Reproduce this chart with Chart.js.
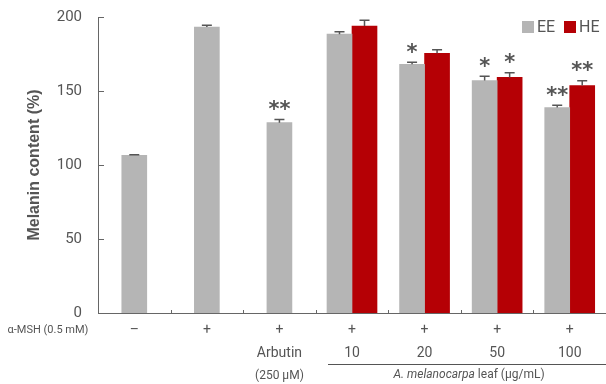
<!DOCTYPE html>
<html>
<head>
<meta charset="utf-8">
<script src="https://cdn.jsdelivr.net/npm/chart.js@4/dist/chart.umd.min.js"></script>
<style>
  html, body { margin: 0; padding: 0; background: #fff; }
  #wrap { width: 606px; height: 384px; position: relative; }
</style>
</head>
<body>
<div id="wrap"><canvas id="chart"></canvas></div>
<script>
const categories = ['control', 'msh', 'arbutin', '10', '20', '50', '100'];
const mshRow = ['\u2013', '+', '+', '+', '+', '+', '+'];
const doseRow = ['', '', 'Arbutin', '10', '20', '50', '100'];
const eeValues = [106.5, 193.2, 128.6, 188.4, 168.0, 157.1, 138.8];
const eeErrors = [0.4, 1.2, 2.2, 1.6, 1.4, 2.9, 1.5];
const eeStars = ['', '', '**', '', '*', '*', '**'];
const heValues = [null, null, null, 193.9, 175.5, 159.2, 153.7];
const heErrors = [0, 0, 0, 3.9, 2.3, 3.2, 3.2];
const heStars = ['', '', '', '', '', '*', '**'];
const yTicks = [0, 50, 100, 150, 200];

const GREY = '#b5b5b5';
const RED = '#b50005';
const TEXT = '#555555';
const FONT = "'Liberation Sans Narrow', 'Roboto', 'Liberation Sans', sans-serif";

const extras = {
  id: 'extras',
  afterDatasetsDraw(chart) {
    const ctx = chart.ctx;
    const x = chart.scales.x;
    const y = chart.scales.y;
    const area = chart.chartArea;
    ctx.save();

    // inward tick marks
    ctx.strokeStyle = '#666';
    ctx.lineWidth = 1;
    ctx.beginPath();
    yTicks.forEach(v => {
      const py = Math.round(y.getPixelForValue(v)) + 0.5;
      ctx.moveTo(area.left, py);
      ctx.lineTo(area.left + 6, py);
    });
    for (let i = 1; i < categories.length; i++) {
      const px = Math.round((x.getPixelForValue(i - 1) + x.getPixelForValue(i)) / 2) + 0.5;
      ctx.moveTo(px, area.bottom);
      ctx.lineTo(px, area.bottom - 3);
    }
    ctx.stroke();

    // error bars and stars
    const sets = [[0, eeValues, eeErrors, eeStars], [1, heValues, heErrors, heStars]];
    sets.forEach(([di, vals, errs, stars]) => {
      const meta = chart.getDatasetMeta(di);
      meta.data.forEach((bar, i) => {
        if (vals[i] === null) return;
        const bx = bar.x;
        const top = y.getPixelForValue(vals[i] + errs[i]);
        ctx.strokeStyle = '#555';
        ctx.lineWidth = 1.5;
        ctx.beginPath();
        ctx.moveTo(bx, bar.y);
        ctx.lineTo(bx, top);
        ctx.moveTo(bx - 5, top);
        ctx.lineTo(bx + 5, top);
        ctx.stroke();
        if (stars[i]) {
          ctx.fillStyle = TEXT;
          ctx.font = "bold 21px 'DejaVu Sans', sans-serif";
          ctx.textAlign = 'center';
          ctx.textBaseline = 'middle';
          ctx.fillText(stars[i], bx, top - 9);
        }
      });
    });

    // legend, top right
    const legend = [['EE', GREY, 522], ['HE', RED, 564]];
    ctx.font = '16px ' + FONT;
    ctx.textAlign = 'left';
    ctx.textBaseline = 'middle';
    legend.forEach(([name, color, lx]) => {
      ctx.fillStyle = color;
      ctx.fillRect(lx, 21, 12, 12);
      ctx.fillStyle = TEXT;
      ctx.fillText(name, lx + 15, 28);
    });

    // category rows under the axis
    ctx.fillStyle = TEXT;
    ctx.textAlign = 'center';
    ctx.textBaseline = 'middle';
    ctx.font = '11px ' + FONT;
    ctx.fillText('\u03b1-MSH (0.5 mM)', 48, 330);
    categories.forEach((c, i) => {
      const px = x.getPixelForValue(i);
      ctx.font = '14px ' + FONT;
      ctx.fillText(mshRow[i], px, 330);
      if (doseRow[i]) ctx.fillText(doseRow[i], px, 353);
    });
    ctx.font = '12px ' + FONT;
    ctx.fillText('(250 \u00b5M)', x.getPixelForValue(2), 376);

    ctx.strokeStyle = '#555';
    ctx.lineWidth = 1;
    ctx.beginPath();
    ctx.moveTo(328, 364.5);
    ctx.lineTo(606, 364.5);
    ctx.stroke();

    // "A. melanocarpa leaf (µg/mL)" with italic part
    const parts = [
      ['italic 12px ' + FONT, 'A. melanocarpa '],
      ['12px ' + FONT, 'leaf (\u00b5g/mL)']
    ];
    let total = 0;
    parts.forEach(p => { ctx.font = p[0]; total += ctx.measureText(p[1]).width; });
    let sx = 469 - total / 2;
    ctx.textAlign = 'left';
    parts.forEach(p => {
      ctx.font = p[0];
      ctx.fillText(p[1], sx, 375);
      sx += ctx.measureText(p[1]).width;
    });
    ctx.restore();
  }
};

new Chart(document.getElementById('chart'), {
  type: 'bar',
  data: {
    labels: categories,
    datasets: [
      { label: 'EE', data: eeValues, backgroundColor: GREY, barThickness: 25, skipNull: true },
      { label: 'HE', data: heValues, backgroundColor: RED, barThickness: 25, skipNull: true }
    ]
  },
  options: {
    responsive: true,
    maintainAspectRatio: false,
    animation: false,
    layout: { padding: { top: 8, right: 0, bottom: 0, left: 0 } },
    plugins: {
      tooltip: { enabled: false },
      legend: { display: false }
    },
    scales: {
      x: {
        type: 'category',
        offset: true,
        grid: { display: false },
        border: { display: true, color: '#666', width: 1 },
        ticks: { display: false },
        afterFit(scale) { scale.height = 71; }
      },
      y: {
        min: 0,
        max: 200,
        afterBuildTicks(scale) { scale.ticks = yTicks.map(v => ({ value: v })); },
        grid: { display: false },
        border: { display: true, color: '#666', width: 1 },
        ticks: { color: TEXT, padding: 8, font: { size: 15, family: FONT } },
        title: {
          display: true,
          text: 'Melanin content (%)',
          color: TEXT,
          font: { size: 16, weight: 'bold', family: "'Liberation Sans', 'Roboto', sans-serif" },
          padding: { top: 25, bottom: 0 }
        },
        afterFit(scale) { scale.width = 98; }
      }
    }
  },
  plugins: [extras]
});
</script>
</body>
</html>
